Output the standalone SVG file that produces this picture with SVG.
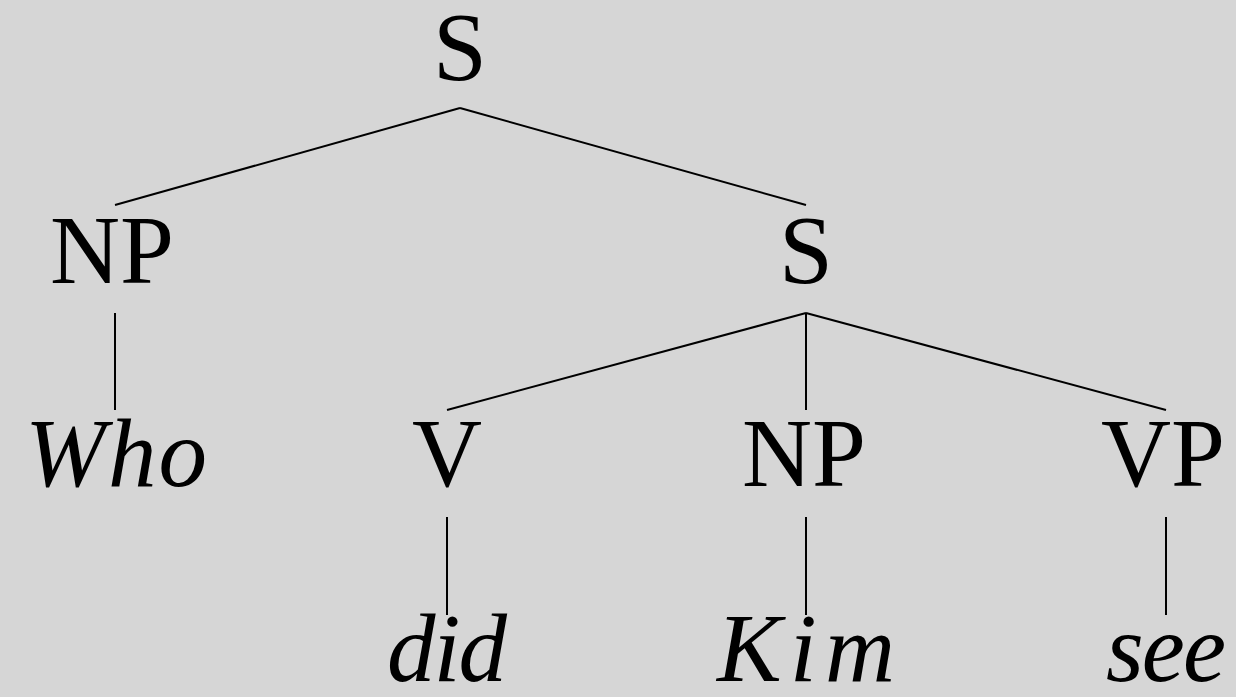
<svg xmlns="http://www.w3.org/2000/svg" width="1236" height="697" viewBox="0 0 1236 697">
<style>
.lbl{font-family:"Liberation Serif","Times New Roman",serif;font-size:97px;fill:#000;text-anchor:middle}
.it{font-style:italic}
.edge{stroke:#000;stroke-width:2;fill:none}
</style>
<rect width="1236" height="697" fill="#d6d6d6"/>
<g id="connectors">
<line class="edge" x1="460" y1="108" x2="115" y2="205"/>
<line class="edge" x1="460" y1="108" x2="806" y2="205"/>
<line class="edge" x1="115" y1="313" x2="115" y2="410"/>
<line class="edge" x1="806" y1="313" x2="447" y2="410"/>
<line class="edge" x1="806" y1="313" x2="806" y2="410"/>
<line class="edge" x1="806" y1="313" x2="1166" y2="410"/>
<line class="edge" x1="447" y1="517" x2="447" y2="615"/>
<line class="edge" x1="806" y1="517" x2="806" y2="615"/>
<line class="edge" x1="1166" y1="517" x2="1166" y2="615"/>
</g>
<g id="node-S-root"><text class="lbl" x="460" y="80">S</text></g>
<g id="node-NP1"><text class="lbl" x="112" y="283">NP</text></g>
<g id="node-S2"><text class="lbl" x="806" y="283">S</text></g>
<g id="node-Who"><text class="lbl it" x="116" y="486" textLength="182" lengthAdjust="spacing">Who</text></g>
<g id="node-V"><text class="lbl" x="447" y="486">V</text></g>
<g id="node-NP2"><text class="lbl" x="804" y="486">NP</text></g>
<g id="node-VP"><text class="lbl" x="1163" y="486">VP</text></g>
<g id="node-did"><text class="lbl it" x="447" y="681" textLength="120" lengthAdjust="spacing">did</text></g>
<g id="node-Kim"><text class="lbl it" x="806" y="681" textLength="178" lengthAdjust="spacing">Kim</text></g>
<g id="node-see"><text class="lbl it" x="1166" y="681" textLength="120" lengthAdjust="spacing">see</text></g>
</svg>
